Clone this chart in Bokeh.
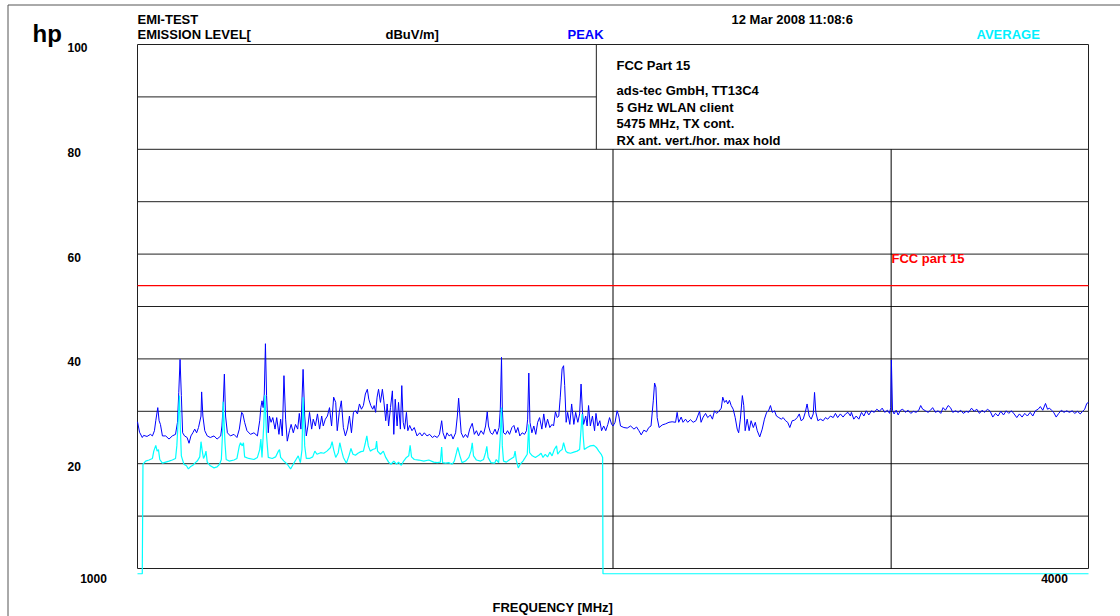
import math
from bokeh.plotting import figure
from bokeh.models import Range1d, Label
from bokeh.core.properties import value
from bokeh.embed import file_html
from bokeh.resources import INLINE

# ---------------- data ----------------
x_ticks = [1000, 4000]
x_tick_labels = ["1000", "4000"]
y_ticks = [20, 40, 60, 80, 100]
y_tick_labels = ["20", "40", "60", "80", "100"]

grid_levels = [0, 10, 20, 30, 40, 50, 60, 70, 80, 100]
short_level = [90]
x_grid = [2000, 3000]
box_left = 1952
fcc_limit = 54.0

peak_freq = [
    1000, 1003, 1007, 1009, 1014, 1019, 1022, 1025, 1027, 1030,
    1032, 1034, 1037, 1042, 1047, 1052, 1057, 1060, 1062, 1064,
    1066, 1068, 1071, 1075, 1078, 1081, 1084, 1087, 1090, 1093,
    1097, 1098, 1100, 1103, 1107, 1112, 1118, 1123, 1129, 1131,
    1133, 1135, 1137, 1140, 1145, 1151, 1156, 1160, 1164, 1166,
    1169, 1173, 1179, 1185, 1191, 1195, 1197, 1199, 1201, 1203,
    1205, 1207, 1210, 1212, 1215, 1218, 1222, 1225, 1229, 1232,
    1235, 1238, 1241, 1244, 1248, 1251, 1255, 1259, 1263, 1266,
    1269, 1273, 1276, 1279, 1282, 1285, 1289, 1292, 1296, 1300,
    1304, 1308, 1311, 1315, 1319, 1323, 1327, 1331, 1335, 1338,
    1342, 1346, 1350, 1354, 1358, 1362, 1366, 1370, 1374, 1378,
    1382, 1386, 1390, 1394, 1398, 1401, 1405, 1409, 1412, 1415,
    1418, 1421, 1425, 1429, 1432, 1436, 1439, 1442, 1446, 1450,
    1453, 1456, 1460, 1463, 1467, 1470, 1473, 1476, 1480, 1483,
    1487, 1492, 1497, 1503, 1509, 1514, 1519, 1525, 1531, 1537,
    1542, 1548, 1553, 1558, 1561, 1566, 1570, 1575, 1580, 1584,
    1590, 1594, 1597, 1600, 1603, 1608, 1613, 1618, 1623, 1629,
    1634, 1639, 1644, 1650, 1656, 1661, 1665, 1668, 1673, 1678,
    1684, 1689, 1694, 1697, 1700, 1702, 1705, 1710, 1715, 1720,
    1726, 1731, 1736, 1741, 1746, 1752, 1758, 1763, 1766, 1769,
    1772, 1777, 1782, 1787, 1792, 1797, 1803, 1808, 1813, 1818,
    1824, 1830, 1834, 1839, 1844, 1848, 1852, 1857, 1861, 1864,
    1868, 1872, 1878, 1883, 1889, 1894, 1900, 1905, 1909, 1913,
    1916, 1922, 1926, 1930, 1935, 1941, 1947, 1951, 1956, 1962,
    1967, 1973, 1979, 1985, 1990, 1996, 2000,
    2006, 2012, 2017, 2022, 2032, 2042, 2052, 2062, 2070, 2077,
    2084, 2092, 2100, 2107, 2114, 2121, 2125, 2129, 2133, 2139,
    2149, 2159, 2170, 2180, 2191, 2196, 2201, 2209, 2215, 2223,
    2230, 2239, 2248, 2257, 2263, 2269, 2274, 2281, 2289, 2296,
    2305, 2312, 2319, 2326, 2334, 2342, 2347, 2353, 2359, 2364,
    2370, 2376, 2383, 2390, 2397, 2402, 2408, 2415, 2420, 2425,
    2432, 2439, 2446, 2454, 2461, 2468, 2477, 2486, 2494, 2502,
    2509, 2516, 2523, 2531, 2538, 2547, 2556, 2563, 2572, 2580,
    2588, 2597, 2606, 2616, 2624, 2631, 2639, 2647, 2654, 2662,
    2670, 2678, 2683, 2688, 2696, 2706, 2717, 2726, 2735, 2746,
    2757, 2766, 2775, 2786, 2797, 2807, 2817, 2827, 2831, 2841,
    2851, 2862, 2873, 2883, 2893, 2904, 2915, 2927, 2938, 2949,
    2961, 2972, 2984, 2993, 2998, 3001, 3006, 3013, 3022, 3031,
    3041, 3051, 3063, 3075, 3087, 3099, 3111, 3123, 3132, 3141,
    3154, 3166, 3177, 3187, 3200, 3213, 3225, 3236, 3247, 3260,
    3271, 3282, 3295, 3308, 3320, 3333, 3347, 3359, 3373, 3386,
    3399, 3412, 3425, 3438, 3452, 3466, 3479, 3493, 3506, 3520,
    3534, 3548, 3561, 3575, 3589, 3603, 3617, 3631, 3645, 3659,
    3674, 3688, 3702, 3717, 3729, 3742, 3757, 3768, 3779, 3790,
    3802, 3816, 3830, 3845, 3860, 3875, 3890, 3906, 3921, 3936,
    3952, 3966, 3978, 3990, 4000,
]

peak_level = [
    28.0, 26.0, 25.0, 25.4, 25.2, 25.6, 25.3, 26.3, 28.2, 30.7,
    28.2, 27.5, 25.3, 25.3, 24.7, 25.3, 25.6, 27.9, 33.6, 39.9,
    33.0, 25.9, 25.3, 25.0, 23.9, 25.3, 25.9, 26.6, 25.9, 26.9,
    29.1, 33.7, 29.1, 26.3, 25.3, 25.0, 25.3, 24.7, 25.3, 27.2,
    31.1, 37.1, 29.1, 25.9, 25.3, 25.6, 25.0, 26.6, 29.8, 29.5,
    27.9, 26.3, 25.6, 25.9, 25.3, 28.2, 30.7, 32.0, 30.7, 33.3,
    42.9, 33.0, 25.9, 29.1, 27.9, 28.8, 26.6, 28.8, 25.6, 28.5,
    25.3, 36.8, 28.5, 24.3, 26.3, 27.5, 25.9, 27.5, 26.6, 29.6,
    26.6, 38.0, 29.1, 25.3, 27.2, 29.8, 26.6, 28.5, 27.2, 29.5,
    26.6, 29.1, 27.2, 28.5, 29.1, 30.7, 27.2, 32.7, 31.7, 26.3,
    29.8, 32.0, 26.9, 25.3, 26.6, 29.1, 25.9, 29.8, 30.1, 29.5,
    31.4, 30.4, 31.1, 33.3, 34.2, 32.3, 31.1, 30.4, 31.1, 29.8,
    32.7, 34.2, 31.7, 34.2, 32.0, 28.2, 31.4, 27.2, 30.7, 33.9,
    25.6, 32.3, 27.2, 31.7, 26.6, 34.9, 27.9, 26.6, 29.8, 26.3,
    27.3, 26.3, 26.9, 25.3, 25.9, 25.3, 25.9, 25.3, 25.6, 25.0,
    25.3, 25.0, 25.6, 28.2, 25.9, 24.7, 25.9, 25.3, 25.6, 24.7,
    25.9, 29.1, 32.5, 29.1, 25.9, 25.0, 25.6, 25.0, 26.6, 27.7,
    25.6, 26.3, 25.3, 26.3, 25.6, 27.2, 29.9, 27.2, 25.9, 25.6,
    26.6, 25.6, 26.9, 30.4, 40.3, 30.4, 25.9, 25.6, 26.3, 25.6,
    26.9, 27.3, 25.9, 26.9, 25.3, 25.9, 25.6, 26.3, 28.5, 37.3,
    27.9, 25.9, 27.2, 25.6, 27.9, 28.8, 26.6, 29.5, 26.9, 28.5,
    26.9, 27.5, 27.2, 29.9, 28.8, 29.1, 32.7, 38.1, 38.7, 34.9,
    27.9, 29.8, 27.5, 31.4, 27.5, 29.8, 27.9, 29.5, 35.2, 29.8,
    27.5, 29.1, 27.2, 31.1, 27.2, 29.1, 26.3, 29.6, 27.2, 28.2,
    26.3, 27.2, 26.3, 27.5, 28.8, 27.5, 27.2,
    27.9, 30.1, 29.1, 27.2, 26.9, 26.8, 27.2, 26.6, 27.0, 26.3,
    25.5, 26.4, 26.1, 26.9, 27.2, 32.0, 35.4, 34.6, 28.8, 26.9,
    27.4, 27.6, 27.9, 28.0, 27.9, 29.8, 27.9, 28.9, 27.9, 28.5,
    27.9, 28.4, 27.9, 28.2, 29.1, 30.0, 27.9, 28.9, 29.6, 28.8,
    29.3, 28.5, 30.1, 29.6, 30.0, 30.6, 32.7, 31.7, 32.1, 31.4,
    32.1, 31.1, 30.4, 28.8, 26.6, 25.9, 28.5, 33.0, 31.1, 26.3,
    28.5, 26.3, 28.2, 26.9, 27.9, 26.3, 25.1, 26.6, 28.5, 29.8,
    30.1, 31.1, 29.8, 30.1, 29.1, 28.8, 28.5, 28.8, 28.2, 27.9,
    26.9, 28.2, 28.3, 28.8, 29.5, 28.2, 28.5, 29.8, 31.4, 29.1,
    28.5, 29.5, 33.6, 29.8, 28.2, 28.5, 28.2, 28.8, 28.5, 29.1,
    28.8, 29.6, 28.8, 29.5, 28.9, 29.5, 29.8, 29.1, 29.8, 28.5,
    29.1, 28.5, 29.8, 29.1, 30.1, 29.3, 30.1, 29.8, 30.4, 30.0,
    30.6, 29.8, 30.2, 29.6, 30.7, 39.8, 30.1, 29.5, 30.2, 29.3,
    30.2, 30.4, 29.8, 30.2, 29.6, 30.0, 29.8, 30.2, 31.1, 30.4,
    30.1, 29.8, 30.2, 30.7, 29.8, 30.1, 29.6, 30.7, 30.2, 31.1,
    30.7, 29.8, 30.1, 29.8, 30.2, 29.6, 30.0, 29.8, 30.6, 30.0,
    30.4, 29.6, 30.2, 29.8, 30.4, 30.0, 28.9, 29.6, 29.1, 30.0,
    29.3, 30.1, 29.6, 30.1, 29.5, 28.8, 29.5, 28.9, 29.6, 29.1,
    29.8, 29.1, 30.1, 30.4, 30.9, 30.2, 31.5, 30.4, 30.6, 30.2,
    29.8, 28.9, 29.6, 30.2, 29.8, 30.1, 29.8, 30.1, 29.6, 30.0,
    29.5, 30.0, 30.4, 31.5, 31.7,
]

avg_freq = [
    1000, 1007, 1008, 1012, 1017, 1022, 1024, 1027, 1029, 1031,
    1033, 1037, 1042, 1047, 1052, 1057, 1059, 1061, 1063, 1064,
    1066, 1070, 1074, 1077, 1080, 1084, 1088, 1091, 1095, 1097,
    1099, 1101, 1103, 1105, 1107, 1112, 1118, 1123, 1127, 1130,
    1132, 1133, 1136, 1138, 1143, 1151, 1156, 1160, 1162, 1165,
    1167, 1169, 1176, 1185, 1191, 1195, 1197, 1199, 1202, 1204,
    1207, 1210, 1217, 1223, 1228, 1230, 1232, 1238, 1244, 1250,
    1256, 1260, 1264, 1268, 1271, 1273, 1276, 1279, 1285, 1291,
    1295, 1299, 1306, 1312, 1318, 1325, 1328, 1331, 1335, 1340,
    1343, 1346, 1350, 1356, 1361, 1365, 1369, 1374, 1379, 1385,
    1390, 1394, 1397, 1400, 1404, 1409, 1415, 1417, 1419, 1425,
    1431, 1436, 1442, 1447, 1453, 1459, 1463, 1469, 1474, 1480,
    1485, 1488, 1491, 1497, 1507, 1518, 1529, 1540, 1548, 1555,
    1558, 1560, 1567, 1574, 1582, 1587, 1592, 1595, 1600, 1605,
    1613, 1621, 1626, 1629, 1632, 1639, 1649, 1656, 1661, 1664,
    1667, 1674, 1683, 1687, 1693, 1697, 1700, 1702, 1705, 1712,
    1719, 1725, 1731, 1734, 1737, 1742, 1747, 1754, 1760, 1765,
    1769, 1771, 1778, 1786, 1795, 1801, 1806, 1812, 1818, 1824,
    1830, 1836, 1842, 1845, 1851, 1857, 1861, 1867, 1872, 1880,
    1889, 1898, 1905, 1909, 1912, 1915, 1918, 1926, 1935, 1945,
    1952, 1959, 1966, 1970, 1971, 4000,
]

avg_level = [
    -1.0, -1.0, 19.9, 20.5, 20.7, 21.0, 22.4, 23.5, 22.4, 22.7,
    20.8, 20.1, 20.3, 20.5, 20.7, 21.0, 23.4, 27.9, 33.0, 28.5,
    21.5, 19.9, 19.6, 19.0, 19.4, 19.7, 20.2, 20.5, 21.3, 24.2,
    22.4, 21.0, 21.5, 22.4, 20.3, 19.6, 19.2, 19.4, 19.9, 20.8,
    25.9, 31.8, 24.0, 20.8, 20.5, 20.7, 21.0, 23.4, 24.0, 23.4,
    24.0, 21.3, 21.0, 20.8, 21.2, 22.7, 24.7, 21.2, 27.2, 33.1,
    25.3, 21.2, 21.0, 21.3, 22.4, 22.7, 21.2, 20.5, 19.9, 19.0,
    20.1, 20.8, 21.5, 20.2, 22.7, 32.7, 23.4, 21.0, 21.0, 21.3,
    22.4, 21.8, 22.1, 22.0, 22.4, 23.1, 24.2, 22.7, 21.2, 22.1,
    24.0, 22.7, 21.2, 20.1, 21.5, 22.9, 21.8, 21.6, 22.0, 22.3,
    22.4, 24.0, 25.3, 23.4, 22.4, 22.7, 22.9, 24.3, 22.4, 21.8,
    22.4, 21.2, 20.3, 19.9, 20.5, 19.9, 20.3, 19.7, 20.5, 21.2,
    21.5, 23.5, 21.3, 20.8, 20.7, 20.5, 20.7, 20.3, 20.2, 20.3,
    23.2, 20.2, 20.1, 20.2, 19.9, 20.5, 22.1, 23.1, 21.5, 20.2,
    20.5, 21.2, 22.4, 24.0, 21.5, 20.7, 20.5, 20.8, 22.1, 23.3,
    21.2, 20.2, 20.1, 20.8, 20.2, 25.3, 30.7, 23.4, 20.5, 20.3,
    20.7, 21.0, 21.3, 22.4, 20.7, 19.2, 19.9, 20.5, 21.2, 21.8,
    27.5, 22.1, 21.5, 21.2, 21.6, 22.0, 21.2, 21.8, 21.3, 22.2,
    21.5, 22.7, 23.4, 21.8, 22.4, 22.7, 24.0, 22.4, 22.1, 22.0,
    22.2, 22.4, 22.7, 26.6, 29.5, 25.3, 22.7, 23.1, 23.4, 23.5,
    23.1, 22.4, 21.8, 21.2, -1.0, -1.0,
]

# ---------------- layout (page pixels of the chart box) ----------------
W, H = 1120, 616
PX_L, PX_R = 137, 1088      # pixel columns of the first / last x tick
PY_0, PY_100 = 568, 44      # pixel rows of 0 dB and 100 dB
px_per_dec = (PX_R - PX_L) / math.log10(x_ticks[-1] / x_ticks[0])
px_per_db = (PY_0 - PY_100) / 100.0


def fx(px):
    return x_ticks[0] * 10 ** ((px - PX_L) / px_per_dec)


def fy(py):
    return (PY_0 - py) / px_per_db


FONT = "Liberation Sans"
LINE = "#202020"

p = figure(width=W, height=H, x_axis_type="log",
           x_range=Range1d(fx(0), fx(W)), y_range=Range1d(fy(H), fy(0)),
           x_axis_location=None, y_axis_location=None,
           output_backend="svg", toolbar_location=None,
           min_border=0, min_border_left=0, min_border_right=0,
           min_border_top=0, min_border_bottom=0)
p.outline_line_color = None
p.grid.visible = False
p.background_fill_color = "white"
p.border_fill_color = "white"

# outer frame of the printout (top and left edges)
p.segment(x0=[fx(7.5), fx(7.5)], y0=[fy(4.5), fy(4.5)], x1=[fx(W), fx(7.5)], y1=[fy(4.5), fy(H)],
          line_color="#555555", line_width=1)

# chart box and grid
n = len(grid_levels)
p.segment(x0=[x_ticks[0]] * n, y0=grid_levels, x1=[x_ticks[-1]] * n, y1=grid_levels,
          line_color=LINE, line_width=1)
p.segment(x0=[x_ticks[0]], y0=short_level, x1=[box_left], y1=short_level,
          line_color=LINE, line_width=1)
p.segment(x0=x_ticks, y0=[0, 0], x1=x_ticks, y1=[100, 100], line_color=LINE, line_width=1)
p.segment(x0=x_grid, y0=[0, 0], x1=x_grid, y1=[80, 80], line_color="black", line_width=1)
p.segment(x0=[box_left], y0=[80], x1=[box_left], y1=[100], line_color=LINE, line_width=1)

# limit line and traces
p.segment(x0=[x_ticks[0]], y0=[fcc_limit], x1=[x_ticks[-1]], y1=[fcc_limit],
          line_color="#ff0000", line_width=1.3)
p.line(peak_freq, peak_level, line_color="#0000ff", line_width=1)
p.line(avg_freq, avg_level, line_color="#00ffff", line_width=1.2)

# tick labels, drawn at the tick values
p.text(x=[fx(67)] * len(y_ticks), y=y_ticks, text=y_tick_labels,
       text_font=value(FONT), text_font_style="bold", text_font_size="12px",
       text_align="left", text_baseline="middle", y_offset=3, text_color="black")
p.text(x=x_ticks, y=[0, 0], text=x_tick_labels, x_offset=[-44, -34], y_offset=10,
       text_font=value(FONT), text_font_style="bold", text_font_size="12px",
       text_align="center", text_baseline="middle", text_color="black")


def lab(text, px, py, color="black", size="13px"):
    p.add_layout(Label(x=fx(px), y=fy(py), text=text, text_font=FONT,
                       text_font_style="bold", text_font_size=size,
                       text_color=color, text_align="left",
                       text_baseline="alphabetic"))


lab("hp", 32, 32.5, size="24px")
lab("EMI-TEST", 137, 18.5)
lab("EMISSION LEVEL[", 137, 34)
lab("dBuV/m]", 385, 34)
lab("PEAK", 567, 34, color="#0000ff")
lab("12 Mar 2008  11:08:6", 731, 19)
lab("AVERAGE", 976, 34, color="#00f0ff")
lab("FCC Part 15", 616, 65)
lab("ads-tec GmbH,  TT13C4", 616, 90)
lab("5 GHz WLAN  client", 616, 106.5)
lab("5475 MHz, TX cont.", 616, 123)
lab("RX ant. vert./hor. max hold", 616, 139.5)
lab("FCC part 15", 891, 257.5, color="#ff0000")
lab("FREQUENCY [MHz]", 492, 607)

open("out.html", "w").write(file_html(p, INLINE))
